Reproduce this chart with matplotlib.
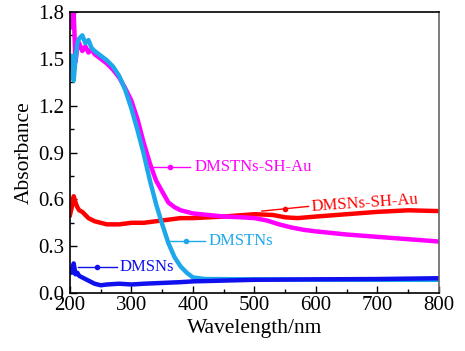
import matplotlib
matplotlib.use("Agg")
import matplotlib.pyplot as plt
from matplotlib.ticker import MultipleLocator, FormatStrFormatter

plt.rcParams['font.family'] = ['Liberation Serif', 'DejaVu Serif']

# values
wl_au = [200, 203, 206, 209, 212, 215, 220, 225, 230, 235, 240, 250, 260, 270, 280,
         290, 300, 310, 320, 330, 340, 350, 360, 370, 380, 400, 450, 480, 500, 520,
         540, 560, 580, 600, 650, 700, 750, 800]
dmstns_sh_au = [1.75, 1.70, 1.80, 1.48, 1.58, 1.60, 1.55, 1.58, 1.54, 1.56, 1.53, 1.50,
                1.47, 1.43, 1.38, 1.31, 1.23, 1.11, 0.96, 0.83, 0.72, 0.65, 0.58, 0.55,
                0.53, 0.51, 0.49, 0.485, 0.48, 0.465, 0.44, 0.42, 0.405, 0.395, 0.375,
                0.36, 0.345, 0.33]

wl_t = [200, 203, 206, 209, 212, 215, 220, 225, 230, 235, 240, 250, 260, 270, 280,
        290, 300, 310, 320, 330, 340, 350, 360, 370, 380, 390, 400, 420, 500, 600,
        700, 800]
dmstns = [1.45, 1.52, 1.36, 1.50, 1.60, 1.63, 1.65, 1.60, 1.62, 1.57, 1.55, 1.52,
          1.49, 1.45, 1.39, 1.30, 1.18, 1.04, 0.89, 0.72, 0.57, 0.44, 0.32, 0.23,
          0.17, 0.13, 0.10, 0.09, 0.088, 0.086, 0.085, 0.085]

wl_r = [200, 203, 206, 209, 212, 215, 220, 230, 240, 250, 260, 280, 300, 320, 340,
        360, 380, 400, 450, 500, 530, 550, 570, 600, 650, 700, 750, 800]
dmsns_sh_au = [0.50, 0.55, 0.62, 0.58, 0.55, 0.53, 0.52, 0.48, 0.46, 0.45, 0.44, 0.44,
               0.45, 0.45, 0.46, 0.47, 0.48, 0.48, 0.49, 0.505, 0.50, 0.485, 0.48,
               0.49, 0.505, 0.52, 0.53, 0.525]

wl_b = [200, 203, 206, 209, 212, 215, 220, 230, 240, 250, 260, 280, 300, 320, 350,
        380, 400, 450, 500, 600, 700, 800]
dmsns = [0.15, 0.13, 0.19, 0.12, 0.13, 0.11, 0.10, 0.08, 0.06, 0.05, 0.055, 0.06,
         0.055, 0.06, 0.065, 0.07, 0.075, 0.08, 0.085, 0.088, 0.09, 0.095]

# label positions: (text, colour, leader x0, x1, y0, y1, text x, text y, rotation)
labels = [
    ("DMSTNs-SH-Au", '#ff00ff', 330, 395, 0.807, 0.807, 402, 0.807, 0),
    ("DMSNs-SH-Au", '#ff0000', 512, 588, 0.525, 0.555, 592, 0.575, 4),
    ("DMSTNs", '#1ea8ec', 359, 419, 0.333, 0.333, 425, 0.333, 0),
    ("DMSNs", '#1010ee', 213, 276, 0.167, 0.167, 281, 0.167, 0),
]

fig = plt.figure(figsize=(4.65, 3.51), dpi=100)
ax = fig.add_axes([0.1505, 0.165, 0.7935, 0.801])

ax.plot(wl_r, dmsns_sh_au, color='#ff0000', lw=3.2, solid_joinstyle='round')
ax.plot(wl_au, dmstns_sh_au, color='#ff00ff', lw=3.2, solid_joinstyle='round')
ax.plot(wl_t, dmstns, color='#1ea8ec', lw=3.2, solid_joinstyle='round')
ax.plot(wl_b, dmsns, color='#1010ee', lw=3.2, solid_joinstyle='round')

for text, c, x0, x1, y0, y1, tx, ty, rot in labels:
    ax.plot([x0, x1], [y0, y1], color=c, lw=1)
    ax.plot([(x0 + x1) / 2], [(y0 + y1) / 2], 'o', color=c, ms=3)
    ax.text(tx, ty, text, color=c, fontsize=12, va='center', ha='left', rotation=rot)

ax.set_xlim(200, 800)
ax.set_ylim(0, 1.8)
ax.xaxis.set_major_locator(MultipleLocator(100))
ax.xaxis.set_minor_locator(MultipleLocator(50))
ax.yaxis.set_major_locator(MultipleLocator(0.3))
ax.yaxis.set_minor_locator(MultipleLocator(0.15))
ax.yaxis.set_major_formatter(FormatStrFormatter('%.1f'))
ax.tick_params(which='both', direction='in', top=False, right=False, labelsize=15)
ax.tick_params(which='major', length=5, width=1)
ax.tick_params(which='minor', length=3, width=1)
ax.tick_params(axis='x', pad=2)
ax.tick_params(axis='y', pad=4)
ax.set_xlabel('Wavelength/nm', fontsize=15.5, labelpad=3)
ax.set_ylabel('Absorbance', fontsize=15.5, labelpad=3)
for s in ax.spines.values():
    s.set_linewidth(1.2)
ax.spines['right'].set_color('#666666')

fig.savefig('out.png', dpi=100)
